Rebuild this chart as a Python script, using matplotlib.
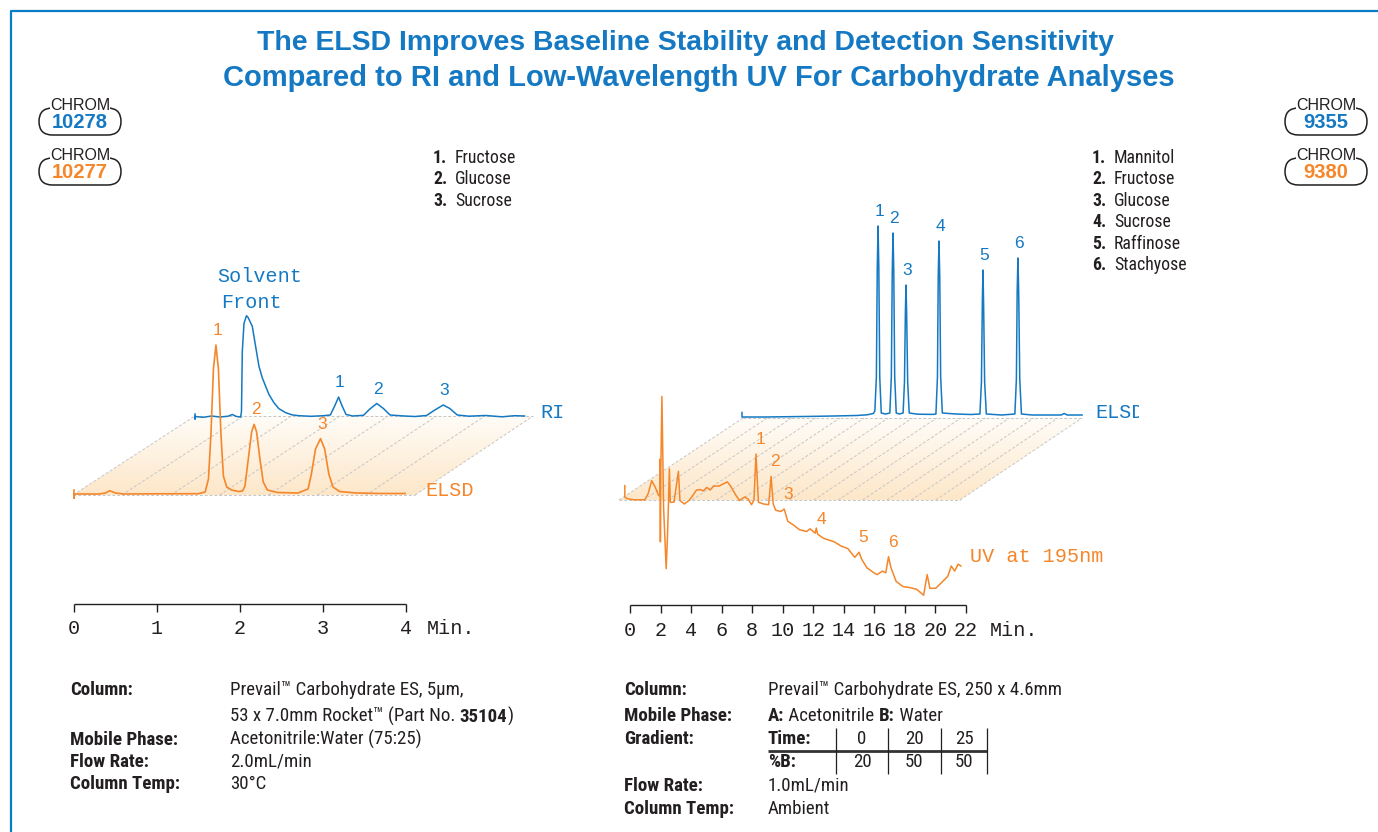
"""ELSD vs RI / low-wavelength UV for carbohydrates: two pseudo-3D chromatogram panels."""

import matplotlib

matplotlib.use("Agg")
import matplotlib.pyplot as plt
import numpy as np
from matplotlib import font_manager
from matplotlib.colors import LinearSegmentedColormap
from matplotlib.patches import FancyBboxPatch, Polygon
from matplotlib.transforms import Bbox, TransformedBbox

# --- data -----------------------------------------------------------------
# time in minutes, signal in arbitrary detector units

# left: Rocket column, ELSD (front) and RI (back)
left_elsd_t = [0.0, 0.0, 0.0, 0.30, 0.38, 0.43, 0.50, 0.60, 1.00, 1.50, 1.58, 1.62, 1.65, 1.68,
               1.71, 1.74, 1.77, 1.80, 1.84, 1.90, 1.98, 2.03, 2.06, 2.10, 2.14, 2.17, 2.20, 2.24,
               2.28, 2.33, 2.45, 2.70, 2.82, 2.86, 2.91, 2.97, 3.02, 3.07, 3.12, 3.20, 3.40, 3.70, 3.99]
left_elsd_s = [4, -4, 0, 0, 1, 3.3, 1, 0, 0.2, 0.3, 2, 15, 60, 125,
               149, 125, 60, 18, 7, 4, 2.5, 3, 8, 35, 62, 69.6, 62, 35,
               12, 4, 1.5, 1, 5, 20, 45, 55.4, 45, 20, 7, 2.5, 1, 0.5, 0.5]

left_ri_t = [0.0, 0.0, 0.0, 0.10, 0.20, 0.30, 0.40, 0.45, 0.50, 0.55, 0.56, 0.57, 0.59, 0.62,
             0.64, 0.69, 0.73, 0.77, 0.81, 0.85, 0.89, 0.95, 1.01, 1.09, 1.17, 1.25, 1.40, 1.55,
             1.63, 1.68, 1.73, 1.77, 1.82, 1.90, 2.03, 2.10, 2.19, 2.27, 2.35, 2.50, 2.65,
             2.79, 2.88, 2.99, 3.07, 3.16, 3.30, 3.50, 3.70, 3.85, 3.97]
left_ri_s = [2.5, -2.5, 0, -0.8, 0.5, -0.5, 0.3, 2, 0, -0.5, 5, 65, 93, 100.8,
             99, 90.2, 70.3, 50.4, 38.8, 30.5, 22.2, 13.9, 7.9, 3.9, 1.6, 0.8, 0.2, 0.8,
             1.5, 10, 19.5, 11, 2, 0.5, 1.2, 7, 13, 8, 1.5, 0.6, 0,
             1, 6, 11.5, 8, 1.5, 0.3, 1, -0.3, 0.8, 0.5]

left_elsd_peaks = [1.71, 2.17, 2.97]
left_ri_peaks = [1.73, 2.19, 2.99]
left_compounds = ["Fructose", "Glucose", "Sucrose"]
left_ticks = [0, 1, 2, 3, 4]

# right: 250 x 4.6mm column, ELSD (back) and UV 195nm (front)
right_elsd_t = [0.0, 0.0, 1.5, 3.0, 4.5, 6.0, 7.5, 8.2, 8.6,
                8.70, 8.80, 8.86, 8.91, 8.96, 9.02, 9.12,
                9.40, 9.68, 9.78, 9.84, 9.89, 9.94, 10.00, 10.10,
                10.30, 10.55, 10.64, 10.70, 10.74, 10.78, 10.85, 10.95,
                11.5, 12.5, 12.70, 12.80, 12.85, 12.90, 12.95, 13.01, 13.12,
                14.0, 15.0, 15.58, 15.68, 15.74, 15.78, 15.82, 15.89, 16.00,
                17.0, 17.87, 17.97, 18.02, 18.07, 18.12, 18.19, 18.30,
                19.0, 20.0, 20.9, 21.1, 21.3, 22.27]
right_elsd_s = [4.5, 0, 0, 0.3, 0.6, 1.0, 1.5, 2.2, 3.5,
                6, 40, 150, 191, 150, 40, 4,
                3, 4, 40, 145, 184, 145, 40, 4,
                3, 4, 35, 105, 132, 105, 35, 4,
                2.8, 2.6, 3, 40, 140, 176, 140, 40, 4,
                3, 2.5, 3, 35, 115, 147, 115, 35, 3,
                2, 3, 38, 125, 159, 125, 38, 3,
                2, 2, 2, 3.5, 2, 2]

right_uv_t = [-0.34, -0.34, -0.16, 0.29, 0.97, 1.19, 1.42, 1.64, 1.87, 1.95,
              1.97, 1.99, 2.02, 2.09, 2.20, 2.37, 2.45, 2.52, 2.58, 2.64,
              2.88, 3.17, 3.27, 3.56, 3.90, 4.35, 4.58, 4.80, 5.03, 5.25,
              5.48, 5.81, 6.38, 6.60, 6.94, 7.17, 7.51, 7.73, 7.96, 8.12,
              8.25, 8.41, 8.75, 9.08, 9.24, 9.38, 9.54, 9.87, 10.10, 10.33,
              10.66, 11.11, 11.57, 11.79, 12.13, 12.20, 12.29, 12.69, 13.37, 13.82,
              14.27, 14.72, 15.00, 15.17, 15.51, 15.97, 16.19, 16.53, 16.75, 16.93,
              17.09, 17.43, 17.88, 18.33, 18.78, 19.23, 19.46, 19.64, 20.02, 20.36,
              20.59, 20.81, 21.04, 21.26, 21.49, 21.67]
right_uv_s = [12.3, 0.9, -0.8, -1.8, -1.8, 4.4, 17.4, 11.3, 2.6, 2.0,
              38.8, -43.8, 30.0, 101.5, -10.0, -70.7, -40.4, -5.0, 29.2, -4.2,
              -4.2, 26.7, -2.5, -6.0, -2.0, 7.8, 8.5, 7.1, 10.6, 8.0,
              11.9, 11.9, 16.1, 11.5, 2.6, -2.5, 1.0, -1.0, -6.7, -2.0,
              44.0, -4.2, -6.0, -6.7, 21.6, -6.0, -12.2, -13.5, -11.1, -23.2,
              -26.6, -31.8, -33.5, -30.8, -35.2, -30.1, -36.3, -40.4, -43.8, -48.0,
              -50.7, -59.3, -54.2, -61.1, -69.7, -74.8, -76.6, -73.1, -74.8, -58.7,
              -69.7, -83.4, -88.6, -89.6, -91.4, -97.2, -76.6, -90.3, -90.3, -85.2,
              -81.7, -78.3, -68.0, -73.1, -66.2, -68.0]

right_elsd_peaks = [8.91, 9.89, 10.74, 12.90, 15.78, 18.07]
right_uv_peaks = [8.25, 9.24, 10.10, 12.29, 15.00, 16.93]
right_compounds = ["Mannitol", "Fructose", "Glucose", "Sucrose", "Raffinose", "Stachyose"]
right_ticks = [0, 2, 4, 6, 8, 10, 12, 14, 16, 18, 20, 22]

grad_time = [0, 20, 25]
grad_b = [20, 50, 50]

# --- style / layout -------------------------------------------------------

W, H, DPI = 1378, 832, 100
BLUE = "#1479C2"
ORANGE = "#F5862A"
INK = "#231F20"
GRID = "#C6C6C6"
PLANE_CMAP = LinearSegmentedColormap.from_list("plane", ["#FFFCF7", "#FDE7C9"])

# (x of t=0, px per minute, baseline y) in figure pixels, y from the top
LEFT_FRONT = (74, 83.0, 494)
LEFT_BACK = (195, 83.0, 416.5)
RIGHT_FRONT = (630, 15.27, 498)
RIGHT_BACK = (742, 15.27, 417)

MONO = ["Liberation Mono", "DejaVu Sans Mono"]
SANS = ["Liberation Sans", "DejaVu Sans"]


def _condensed_family():
    """First condensed grotesque that ships both a regular and a bold face."""
    weights = {}
    for f in font_manager.fontManager.ttflist:
        if f.style == "normal":
            try:
                weights.setdefault(f.name, set()).add(int(f.weight))
            except (TypeError, ValueError):
                pass
    for fam in ["Roboto Condensed", "Archivo Narrow", "PT Sans Narrow",
                "IBM Plex Sans Condensed", "Fira Sans Condensed", "Encode Sans Condensed",
                "Barlow Semi Condensed", "Asap Condensed"]:
        ws = weights.get(fam, set())
        if 400 in ws and 700 in ws:
            return fam
    return "Archivo Narrow"


NARROW = [_condensed_family(), "Liberation Sans", "DejaVu Sans"]
SPEC_SIZE = 13.6

fig = plt.figure(figsize=(W / DPI, H / DPI), dpi=DPI)
deco = fig.add_axes([0, 0, 1, 1], zorder=0)
deco.axis("off")


def trace_axes(layout, zorder):
    """Full-figure axes whose data coords put t=0 / s=0 at the given pixel spot."""
    x0, ppm, base = layout
    ax = fig.add_axes([0, 0, 1, 1], zorder=zorder)
    ax.set_xlim(-x0 / ppm, (W - x0) / ppm)
    ax.set_ylim(base - H, base)
    ax.axis("off")
    return ax


def draw_plane(bottom, top, n):
    (bx0, bx1, by), (tx0, tx1, ty) = bottom, top
    poly = Polygon([(bx0, by), (bx1, by), (tx1, ty), (tx0, ty)], closed=True,
                   fc="none", ec="none")
    deco.add_patch(poly)
    img = deco.imshow(np.linspace(0, 1, 64)[:, None], cmap=PLANE_CMAP, aspect="auto",
                      extent=(min(bx0, tx0), max(bx1, tx1), by, ty), origin="upper",
                      interpolation="bilinear")
    img.set_clip_path(poly)
    dash = dict(color=GRID, lw=0.7, ls=(0, (3, 2)))
    for i in range(n + 1):
        f = i / n
        deco.plot([bx0 + f * (bx1 - bx0), tx0 + f * (tx1 - tx0)], [by, ty], **dash)
    deco.plot([bx0, bx1], [by, by], **dash)
    deco.plot([tx0, tx1], [ty, ty], **dash)


def peak_labels(ax, t, s, peaks, color, dx=1):
    for i, p in enumerate(peaks):
        ax.annotate(str(i + 1), xy=(p, np.interp(p, t, s)), xytext=(dx, 5),
                    textcoords="offset points", ha="center", va="bottom",
                    color=color, fontsize=12.5, family=SANS)


def ruler(ax, ticks, s, min_offset):
    ax.plot([ticks[0], ticks[-1]], [s, s], color=INK, lw=1.0, solid_capstyle="butt")
    ax.vlines(ticks, s - 8, s, color=INK, lw=1.0)
    for t in ticks:
        ax.text(t, s - 25, str(t), ha="center", va="center", fontsize=14.5,
                family=MONO, color=INK)
    ax.annotate("Min.", xy=(ticks[-1], s - 25), xytext=(min_offset, 0),
                textcoords="offset points", ha="left", va="center", fontsize=14.5,
                family=MONO, color=INK)


def chrom_badge(cx, cy, number, color):
    w, h = 82, 27
    deco.add_patch(FancyBboxPatch((cx - w / 2, cy - h / 2), w, h,
                                  boxstyle="round,pad=0,rounding_size=13.5",
                                  fc="white", ec=INK, lw=1.1))
    deco.text(cx, cy - h / 2 - 3, "CHROM", ha="center", va="center", fontsize=11.5,
              family=SANS, color=INK, bbox=dict(fc="white", ec="none", pad=0.2))
    deco.text(cx, cy + 1.5, number, ha="center", va="center", fontsize=14.5,
              weight="bold", family=SANS, color=color)


renderer = fig.canvas.get_renderer()


def rich_text(x, y, parts, size=SPEC_SIZE, ha="left"):
    """Mixed bold/regular runs on one baseline, starting at x (y is the baseline)."""
    for txt, bold in parts:
        t = deco.text(x, y, txt, ha=ha, va="baseline", fontsize=size, family=NARROW,
                      color=INK, fontweight="bold" if bold else "normal")
        bb = t.get_window_extent(renderer)
        x = deco.transData.inverted().transform((bb.x1, bb.y0))[0]


# frame + title
deco.set_xlim(0, W)
deco.set_ylim(H, 0)
deco.plot([11, 11, W], [H, 11, 11], color="#0A7CC6", lw=1.6, solid_capstyle="butt")
deco.text(685, 43, "The ELSD Improves Baseline Stability and Detection Sensitivity",
          ha="center", va="center", fontsize=20.4, weight="bold", family=SANS, color=BLUE)
deco.text(699, 78, "Compared to RI and Low-Wavelength UV For Carbohydrate Analyses",
          ha="center", va="center", fontsize=21, weight="bold", family=SANS, color=BLUE)

chrom_badge(80, 121.5, "10278", BLUE)
chrom_badge(80, 171.5, "10277", ORANGE)
chrom_badge(1326, 121.5, "9355", BLUE)
chrom_badge(1326, 171.5, "9380", ORANGE)

# compound keys
for x, names in [(433, left_compounds), (1092, right_compounds)]:
    for i, name in enumerate(names):
        y = 163 + 21.4 * i
        rich_text(x, y, [(f"{i + 1}.", True)], size=12.8)
        rich_text(x + 22, y, [(name, False)], size=12.8)

# pseudo-3D floors
draw_plane((73, 415, 495), (195, 533, 416), 7)
draw_plane((619, 960, 500), (743, 1082, 418), 14)
deco.set_xlim(0, W)
deco.set_ylim(H, 0)

# --- left panel ---
ax_ri = trace_axes(LEFT_BACK, 1)
ax_ri.plot(left_ri_t, left_ri_s, color=BLUE, lw=1.1)
peak_labels(ax_ri, left_ri_t, left_ri_s, left_ri_peaks, BLUE)

ax_le = trace_axes(LEFT_FRONT, 2)
ax_le.plot(left_elsd_t, left_elsd_s, color=ORANGE, lw=1.2)
peak_labels(ax_le, left_elsd_t, left_elsd_s, left_elsd_peaks, ORANGE)
ruler(ax_le, left_ticks, LEFT_FRONT[2] - 604, 15)

mono = dict(family=MONO, fontsize=14.5, va="center")
deco.text(260, 277, "Solvent", ha="center", color=BLUE, **mono)
deco.text(251, 303, "Front", ha="center", color=BLUE, **mono)
deco.text(540, 412, "RI", ha="left", color=BLUE, **mono)
deco.text(425, 491, "ELSD", ha="left", color=ORANGE, **mono)

# --- right panel ---
ax_re = trace_axes(RIGHT_BACK, 1)
ax_re.plot(right_elsd_t, right_elsd_s, color=BLUE, lw=1.1)
peak_labels(ax_re, right_elsd_t, right_elsd_s, right_elsd_peaks, BLUE)

ax_uv = trace_axes(RIGHT_FRONT, 2)
ax_uv.plot(right_uv_t, right_uv_s, color=ORANGE, lw=1.1)
peak_labels(ax_uv, right_uv_t, right_uv_s, right_uv_peaks, ORANGE, dx=3)
ruler(ax_uv, right_ticks, RIGHT_FRONT[2] - 605, 17)

elsd = deco.text(1095, 412, "ELSD", ha="left", color=BLUE, **mono)
elsd.set_clip_box(TransformedBbox(Bbox([[0, 0], [1139, H]]), deco.transData))
elsd.set_clip_on(True)
deco.text(970, 557, "UV at 195nm", ha="left", color=ORANGE, **mono)

# --- conditions (y values are baselines) ---
B = True
for y, label, parts in [
    (695, "Column:", [("Prevail\u2122 Carbohydrate ES, 5\u00b5m,", False)]),
    (722, "", [("53 x 7.0mm Rocket\u2122 (Part No. ", False), ("35104", B), (")", False)]),
    (745, "Mobile Phase:", [("Acetonitrile:Water (75:25)", False)]),
    (767, "Flow Rate:", [("2.0mL/min", False)]),
    (789, "Column Temp:", [("30\u00b0C", False)]),
]:
    if label:
        rich_text(70, y, [(label, B)])
    rich_text(230, y, parts)

for y, label, parts in [
    (695, "Column:", [("Prevail\u2122 Carbohydrate ES, 250 x 4.6mm", False)]),
    (721, "Mobile Phase:", [("A:", B), (" Acetonitrile ", False), ("B:", B), (" Water", False)]),
    (744, "Gradient:", []),
    (791, "Flow Rate:", [("1.0mL/min", False)]),
    (814, "Column Temp:", [("Ambient", False)]),
]:
    rich_text(624, y, [(label, B)])
    if parts:
        rich_text(768, y, parts)

# gradient table
col_x = [862, 914, 964]
for y, label, vals in [(744, "Time:", grad_time), (767, "%B:", grad_b)]:
    rich_text(768, y, [(label, B)])
    for x, v in zip(col_x, vals):
        rich_text(x, y, [(str(v), False)], ha="center")
deco.plot([768, 987], [751, 751], color="#333333", lw=2.0, solid_capstyle="butt")
deco.vlines([836, 888, 941, 987], 728, 774, color=INK, lw=0.9)

fig.savefig("out.png", dpi=DPI, facecolor="white")
